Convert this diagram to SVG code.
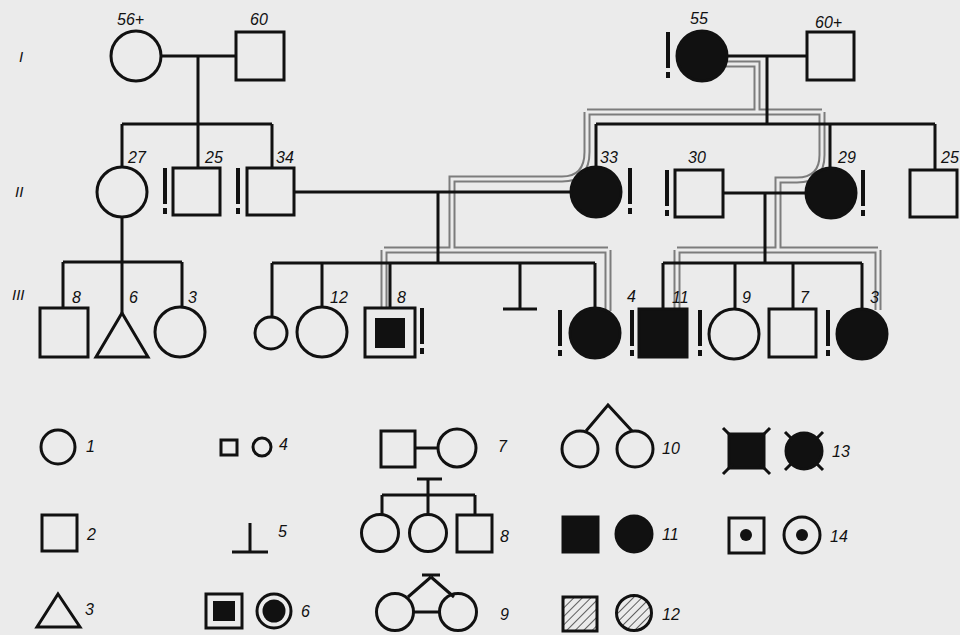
<svg xmlns="http://www.w3.org/2000/svg" width="960" height="635" viewBox="0 0 960 635">
<style>
.bg{fill:#ebebeb}
.s{fill:none;stroke:#111;stroke-width:3}
.f{fill:#111;stroke:#111;stroke-width:3}
.ln{fill:none;stroke:#111;stroke-width:3}
.g1{fill:none;stroke:#7c7c7c;stroke-width:7;stroke-linejoin:miter}
.g2{fill:none;stroke:#ebebeb;stroke-width:3;stroke-linejoin:miter}
.t{font-family:"Liberation Sans",Arial,sans-serif;font-style:italic;font-size:16px;fill:#111}
.r{font-family:"Liberation Sans",Arial,sans-serif;font-style:italic;font-size:15px;fill:#111}
.h{fill:url(#hatch);stroke:#111;stroke-width:3}
</style>
<defs>
<pattern id="hatch" patternUnits="userSpaceOnUse" width="6" height="6" patternTransform="rotate(45)">
<line x1="0" y1="0" x2="0" y2="6" stroke="#111" stroke-width="1.3"/>
</pattern>
<g id="excl"><rect x="-2" y="0" width="4" height="36" fill="#111"/><rect x="-2" y="40" width="4" height="6" fill="#111"/></g>
</defs>
<rect class="bg" x="0" y="0" width="960" height="635"/>

<g id="carrier-band">
<path class="g1" d="M726,64 H757 V112 M587,112 H822 M587,112 V152 Q587,179 562,179 H452 V250 M384,250 H608 M384,250 V309 M608,250 V311 M822,112 V155 Q822,180 797,180 H778 V250 M677,250 H878 M677,250 V309 M878,250 V310"/>
<path class="g2" d="M726,64 H757 V112 M587,112 H822 M587,112 V152 Q587,179 562,179 H452 V250 M384,250 H608 M384,250 V309 M608,250 V311 M822,112 V155 Q822,180 797,180 H778 V250 M677,250 H878 M677,250 V309 M878,250 V310"/>
</g>

<g id="connectors">
<path class="ln" d="M161,56 H236 M198,56 V124 M122,124 H272 M122,124 V167 M198,124 V168 M272,124 V168"/>
<path class="ln" d="M122,217 V262 M63,262 H182 M63,262 V308 M122,262 V313 M182,262 V307"/>
<path class="ln" d="M294,192 H570 M438,192 V263 M272,263 H595 M272,263 V317 M322,263 V307 M390,263 V308 M520,263 V309 M503,309 H537 M595,263 V307"/>
<path class="ln" d="M728,56 H807 M767,56 V124 M596,124 H935 M596,124 V167 M830,124 V167 M935,124 V170"/>
<path class="ln" d="M723,193 H805 M765,193 V263 M663,263 H862 M663,263 V308 M735,263 V308 M793,263 V309 M862,263 V308"/>
</g>

<g id="gen-labels">
<text class="r" x="19" y="62">I</text>
<text class="r" x="15" y="197">II</text>
<text class="r" x="12" y="300">III</text>
</g>

<g id="I-1"><circle class="s" cx="136" cy="56" r="25"/><text class="t" x="117" y="25">56+</text></g>
<g id="I-2"><rect class="s" x="236" y="32" width="48" height="48"/><text class="t" x="250" y="25">60</text></g>
<g id="I-3"><circle class="f" cx="702" cy="56" r="25"/><use href="#excl" x="668" y="32"/><text class="t" x="690" y="24">55</text></g>
<g id="I-4"><rect class="s" x="807" y="32" width="47" height="48"/><text class="t" x="815" y="28">60+</text></g>

<g id="II-1"><circle class="s" cx="122" cy="192" r="25"/><text class="t" x="128" y="163">27</text></g>
<g id="II-2"><rect class="s" x="173" y="168" width="47" height="47"/><use href="#excl" x="165" y="168"/><text class="t" x="205" y="163">25</text></g>
<g id="II-3"><rect class="s" x="247" y="168" width="47" height="47"/><use href="#excl" x="238" y="168"/><text class="t" x="276" y="163">34</text></g>
<g id="II-4"><circle class="f" cx="596" cy="192" r="25"/><use href="#excl" x="630" y="168"/><text class="t" x="600" y="163">33</text></g>
<g id="II-5"><rect class="s" x="675" y="170" width="48" height="47"/><use href="#excl" x="667" y="170"/><text class="t" x="688" y="163">30</text></g>
<g id="II-6"><circle class="f" cx="831" cy="193" r="25"/><use href="#excl" x="863" y="170"/><text class="t" x="838" y="163">29</text></g>
<g id="II-7"><rect class="s" x="910" y="170" width="47" height="47"/><text class="t" x="941" y="163">25</text></g>

<g id="III-1"><rect class="s" x="40" y="308" width="48" height="49"/><text class="t" x="72" y="303">8</text></g>
<g id="III-2"><path class="s" d="M122,313 L148,357 H96 Z"/><text class="t" x="129" y="303">6</text></g>
<g id="III-3"><circle class="s" cx="180" cy="332" r="25"/><text class="t" x="188" y="303">3</text></g>
<g id="III-4"><circle class="s" cx="271" cy="333" r="16"/></g>
<g id="III-5"><circle class="s" cx="322" cy="332" r="25"/><text class="t" x="330" y="303">12</text></g>
<g id="III-6"><rect class="s" x="365" y="308" width="50" height="49"/><rect x="375" y="318" width="30" height="30" fill="#111"/><use href="#excl" x="422" y="308"/><text class="t" x="397" y="303">8</text></g>
<g id="III-8"><circle class="f" cx="595" cy="333" r="25"/><use href="#excl" x="560" y="310"/><text class="t" x="627" y="302">4</text></g>
<g id="III-9"><rect class="f" x="639" y="309" width="48" height="48"/><use href="#excl" x="632" y="310"/><text class="t" x="672" y="303">11</text></g>
<g id="III-10"><circle class="s" cx="734" cy="334" r="25"/><use href="#excl" x="700" y="310"/><text class="t" x="742" y="303">9</text></g>
<g id="III-11"><rect class="s" x="769" y="309" width="47" height="48"/><text class="t" x="800" y="303">7</text></g>
<g id="III-12"><circle class="f" cx="862" cy="334" r="25"/><use href="#excl" x="828" y="310"/><text class="t" x="870" y="303">3</text></g>

<g id="legend">
<g id="L1"><circle class="s" cx="58" cy="447" r="17"/><text class="t" x="86" y="452">1</text></g>
<g id="L2"><rect class="s" x="42" y="515" width="35" height="36"/><text class="t" x="87" y="540">2</text></g>
<g id="L3"><path class="s" d="M58,594 L80,627 H37 Z"/><text class="t" x="85" y="615">3</text></g>
<g id="L4"><rect class="s" x="221" y="440" width="16" height="15"/><circle class="s" cx="262" cy="447" r="9"/><text class="t" x="279" y="450">4</text></g>
<g id="L5"><path class="ln" d="M250,523 V552 M232,552 H268"/><text class="t" x="278" y="537">5</text></g>
<g id="L6"><rect class="s" x="206" y="594" width="36" height="34"/><rect x="213" y="601" width="22" height="20" fill="#111"/><circle class="s" cx="274" cy="611" r="17"/><circle cx="274" cy="611" r="11.5" fill="#111"/><text class="t" x="301" y="617">6</text></g>
<g id="L7"><rect class="s" x="381" y="431" width="34" height="36"/><path class="ln" d="M415,448 H438"/><circle class="s" cx="457" cy="448" r="19"/><text class="t" x="498" y="452">7</text></g>
<g id="L8"><path class="ln" d="M417,479 H442 M428,479 V495 M382,495 H475 M382,495 V514 M428,495 V514 M475,495 V515"/><circle class="s" cx="380" cy="533" r="18.5"/><circle class="s" cx="428" cy="533" r="18.5"/><rect class="s" x="457" y="515" width="35" height="37"/><text class="t" x="500" y="542">8</text></g>
<g id="L9"><path class="ln" d="M422,575 H440 M431,577 L408,597 M431,577 L454,597 M414,612 H439"/><circle class="s" cx="395" cy="612" r="18.5"/><circle class="s" cx="458" cy="612" r="18.5"/><text class="t" x="500" y="620">9</text></g>
<g id="L10"><path class="ln" d="M586,431 L608,405 L632,431"/><circle class="s" cx="580" cy="449" r="18"/><circle class="s" cx="635" cy="449" r="18"/><text class="t" x="662" y="454">10</text></g>
<g id="L11"><rect class="f" x="563" y="517" width="35" height="35"/><circle class="f" cx="634" cy="534" r="18"/><text class="t" x="662" y="540">11</text></g>
<g id="L12"><rect class="h" x="563" y="597" width="34" height="34"/><circle class="h" cx="634" cy="613" r="17.5"/><text class="t" x="662" y="620">12</text></g>
<g id="L13"><rect class="f" x="729" y="434" width="35" height="34"/><path class="ln" d="M723,428 L733,438 M770,428 L760,438 M723,474 L733,464 M770,474 L760,464 M785,432 L794,441 M823,432 L814,441 M785,470 L794,461 M823,470 L814,461"/><circle class="f" cx="804" cy="451" r="18"/><text class="t" x="832" y="457">13</text></g>
<g id="L14"><rect class="s" x="729" y="518" width="35" height="35"/><circle cx="746" cy="535" r="6" fill="#111"/><circle class="s" cx="802" cy="535" r="18"/><circle cx="802" cy="535" r="6" fill="#111"/><text class="t" x="830" y="542">14</text></g>
</g>
</svg>
